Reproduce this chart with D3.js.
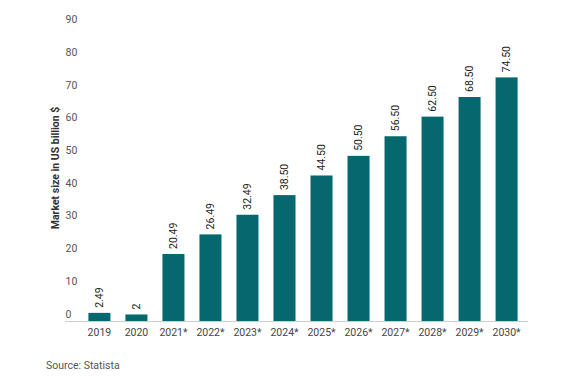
<!DOCTYPE html>
<html><head><meta charset="utf-8">
<script src="https://cdn.jsdelivr.net/npm/d3@7"></script>
<style>body{margin:0;background:#fff;}svg{display:block;font-family:Roboto,sans-serif;}</style>
</head><body>
<svg id="c" width="570" height="383"></svg>
<script>
const categories = ["2019","2020","2021*","2022*","2023*","2024*","2025*","2026*","2027*","2028*","2029*","2030*"];
const values = [2.49,2,20.49,26.49,32.49,38.50,44.50,50.50,56.50,62.50,68.50,74.50];
const valueLabels = ["2.49","2","20.49","26.49","32.49","38.50","44.50","50.50","56.50","62.50","68.50","74.50"];
const yTicks = [0,10,20,30,40,50,60,70,80,90];
const yTitle = "Market size in US billion $";
const source = "Source: Statista";

const svg = d3.select("#c");
const x = d3.scaleBand().domain(categories).range([81,525]).paddingInner(0.405).paddingOuter(0.2);
const y = d3.scaleLinear().domain([0,90]).range([321, 26.7]);

// y tick labels (placed just above their value line)
svg.append("g").selectAll("text").data(yTicks).join("text")
  .attr("x",65.5).attr("y",d=>y(d)-3.5)
  .attr("font-size",10.5).attr("fill","#555")
  .text(d=>d);

// bars
svg.append("g").selectAll("rect").data(values).join("rect")
  .attr("x",(d,i)=>x(categories[i])).attr("width",x.bandwidth())
  .attr("y",d=>y(d)).attr("height",d=>y(0)-y(d))
  .attr("fill","#05686f");

// baseline
svg.append("line").attr("x1",65).attr("x2",528).attr("y1",y(0)+0.5).attr("y2",y(0)+0.5)
  .attr("stroke","#cfcfcf").attr("stroke-width",1);

// value labels
svg.append("g").selectAll("text").data(values).join("text")
  .attr("transform",(d,i)=>`translate(${x(categories[i])+x.bandwidth()/2+3.5},${y(d)-5}) rotate(-90)`)
  .attr("font-size",10.5).attr("fill","#222")
  .text((d,i)=>valueLabels[i]);

// x labels
svg.append("g").selectAll("text").data(categories).join("text")
  .attr("x",d=>x(d)+x.bandwidth()/2).attr("y",335.5)
  .attr("text-anchor","middle").attr("font-size",10.5).attr("fill","#444")
  .text(d=>d);

// y title
svg.append("text").attr("transform","translate(59,168) rotate(-90)")
  .attr("text-anchor","middle").attr("font-size",10.5).attr("font-weight","bold").attr("fill","#333")
  .text(yTitle);

// source
svg.append("text").attr("x",46).attr("y",369).attr("font-size",10.5).attr("fill","#555").text(source);
</script>
</body></html>
